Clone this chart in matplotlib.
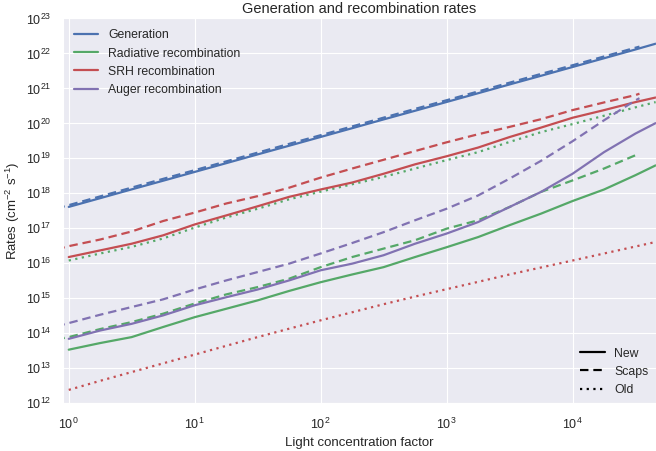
import matplotlib
matplotlib.use('Agg')
import matplotlib.pyplot as plt
from matplotlib.lines import Line2D
from matplotlib.ticker import FixedLocator, NullLocator
import seaborn as sns

# concentration factors, quarter-decade steps
conc_new = [1, 1.78, 3.16, 5.62, 10, 17.8, 31.6, 56.2, 100, 178, 316, 562,
            1000, 1780, 3160, 5620, 10000, 17800, 31600, 45700]
# Scaps sweep starts a bit lower and stops earlier
conc_scaps = [0.8, 1, 1.78, 3.16, 5.62, 10, 17.8, 31.6, 56.2, 100, 178, 316,
              562, 1000, 1780, 3160, 5620, 10000, 17800, 31600, 34000]

gen_new = [4.1e17, 7.3e17, 1.3e18, 2.3e18, 4.1e18, 7.3e18, 1.3e19, 2.3e19,
           4.1e19, 7.3e19, 1.3e20, 2.3e20, 4.1e20, 7.3e20, 1.3e21, 2.3e21,
           4.1e21, 7.3e21, 1.3e22, 1.9e22]
gen_scaps = [3.7e17, 4.6e17, 8.2e17, 1.46e18, 2.6e18, 4.6e18, 8.2e18,
             1.46e19, 2.6e19, 4.6e19, 8.2e19, 1.46e20, 2.6e20, 4.6e20, 8.2e20,
             1.46e21, 2.6e21, 4.6e21, 8.2e21, 1.46e22, 1.57e22]

rad_new = [3.39e13, 5.25e13, 7.76e13, 1.51e14, 2.88e14, 5.01e14, 8.71e14,
           1.62e15, 2.88e15, 4.79e15, 7.76e15, 1.51e16, 2.88e16, 5.62e16,
           1.23e17, 2.63e17, 6.03e17, 1.29e18, 3.31e18, 6.31e18]
rad_scaps = [6.61e13, 7.76e13, 1.32e14, 2.09e14, 3.63e14, 7.08e14, 1.29e15,
             2.09e15, 3.63e15, 7.76e15, 1.51e16, 2.63e16, 4.57e16, 9.77e16,
             1.7e17, 4.07e17, 1.1e18, 2.34e18, 5.13e18, 1.23e19, 1.32e19]
rad_old = [1.2e16, 1.91e16, 2.95e16, 5.13e16, 1.05e17, 2.04e17, 3.63e17,
           6.76e17, 1.12e18, 1.82e18, 2.95e18, 5.13e18, 8.91e18, 1.51e19,
           2.95e19, 5.62e19, 9.55e19, 1.66e20, 2.88e20, 4.07e20]

srh_new = [1.51e16, 2.34e16, 3.63e16, 6.31e16, 1.29e17, 2.34e17, 4.27e17,
           7.94e17, 1.29e18, 2.04e18, 3.63e18, 6.76e18, 1.15e19, 2.04e19,
           4.07e19, 7.59e19, 1.45e20, 2.4e20, 4.07e20, 5.5e20]
srh_scaps = [2.51e16, 3.09e16, 4.79e16, 8.13e16, 1.62e17, 2.82e17, 5.13e17,
             8.32e17, 1.45e18, 2.82e18, 5.13e18, 9.12e18, 1.62e19, 2.88e19,
             4.9e19, 7.94e19, 1.32e20, 2.4e20, 3.98e20, 6.46e20, 7.08e20]
srh_old = [2.4e12, 4.37e12, 7.76e12, 1.38e13, 2.45e13, 4.37e13, 7.76e13,
           1.35e14, 2.34e14, 3.98e14, 6.76e14, 1.12e15, 1.82e15, 2.95e15,
           4.79e15, 7.59e15, 1.2e16, 1.91e16, 3.02e16, 4.07e16]

aug_new = [6.92e13, 1.2e14, 1.86e14, 3.24e14, 6.31e14, 1.07e15, 1.78e15,
           3.24e15, 6.31e15, 9.77e15, 1.7e16, 3.63e16, 7.08e16, 1.51e17,
           4.07e17, 1.1e18, 3.63e18, 1.51e19, 5.13e19, 1.02e20]
aug_scaps = [1.58e14, 1.95e14, 3.39e14, 5.62e14, 9.33e14, 1.78e15, 3.24e15,
             5.62e15, 9.77e15, 1.91e16, 3.8e16, 7.76e16, 1.7e17, 3.63e17,
             8.71e17, 2.63e18, 8.51e18, 3.09e19, 1.23e20, 4.57e20, 5.25e20]

labels = ['Generation', 'Radiative recombination', 'SRH recombination',
          'Auger recombination']
colors = ['#4C72B0', '#55A868', '#C44E52', '#8172B2']

LW = 1.6
DASH = (3.8, 2.2)
DOT = (1, 2.0)


def setup_style():
    """darkgrid look with an Arial-like font"""
    sns.set_style('darkgrid')
    plt.rcParams['font.family'] = ['Liberation Sans', 'DejaVu Sans']
    plt.rcParams['mathtext.fontset'] = 'custom'
    plt.rcParams['mathtext.rm'] = 'Liberation Sans'
    plt.rcParams['mathtext.it'] = 'Liberation Sans:italic'
    plt.rcParams['mathtext.bf'] = 'Liberation Sans:bold'


def plot_rates(ax):
    """Draw every rate curve, one colour per process"""
    series = [
        (gen_new, gen_scaps, None),
        (rad_new, rad_scaps, rad_old),
        (srh_new, srh_scaps, srh_old),
        (aug_new, aug_scaps, None),
    ]
    handles = []
    for (new, scaps, old), label, color in zip(series, labels, colors):
        h, = ax.plot(conc_new, new, color=color, lw=LW, label=label)
        ax.plot(conc_scaps, scaps, color=color, lw=LW, dashes=DASH)
        if old is not None:
            ax.plot(conc_new, old, color=color, lw=LW, dashes=DOT)
        handles.append(h)
    return handles


if __name__ == '__main__':
    setup_style()
    fig = plt.figure(figsize=(6.56, 4.51), dpi=100)
    ax = fig.add_axes([0.096, 0.106, 0.904, 0.853])

    handles = plot_rates(ax)
    ax.set_xscale('log')
    ax.set_yscale('log')
    ax.set_xlim(0.9, 4.6e4)
    ax.set_ylim(1e12, 1e23)
    # one tick per decade, only inside the view
    ax.xaxis.set_major_locator(FixedLocator([10.0 ** k for k in range(0, 5)]))
    ax.yaxis.set_major_locator(FixedLocator([10.0 ** k for k in range(12, 24)]))
    ax.xaxis.set_minor_locator(NullLocator())
    ax.yaxis.set_minor_locator(NullLocator())
    ax.tick_params(axis='y', labelsize=9, pad=5)
    ax.tick_params(axis='x', labelsize=9, pad=6)

    ax.set_title('Generation and recombination rates', fontsize=10.5, pad=4)
    ax.set_xlabel('Light concentration factor', fontsize=9.5, labelpad=4)
    ax.set_ylabel('Rates (cm$^{-2}$ s$^{-1}$)', fontsize=9.5, labelpad=3)

    leg1 = ax.legend(handles=handles, loc='upper left', fontsize=8.8,
                     frameon=False, handlelength=2.0)
    ax.add_artist(leg1)
    style_handles = [
        Line2D([], [], color='k', lw=LW),
        Line2D([], [], color='k', lw=LW, dashes=DASH),
        Line2D([], [], color='k', lw=LW, dashes=DOT),
    ]
    ax.legend(style_handles, ['New', 'Scaps', 'Old'], loc='lower right',
              fontsize=8.8, frameon=False, handlelength=2.0,
              borderaxespad=0.2)

    fig.savefig('out.png', dpi=100)
